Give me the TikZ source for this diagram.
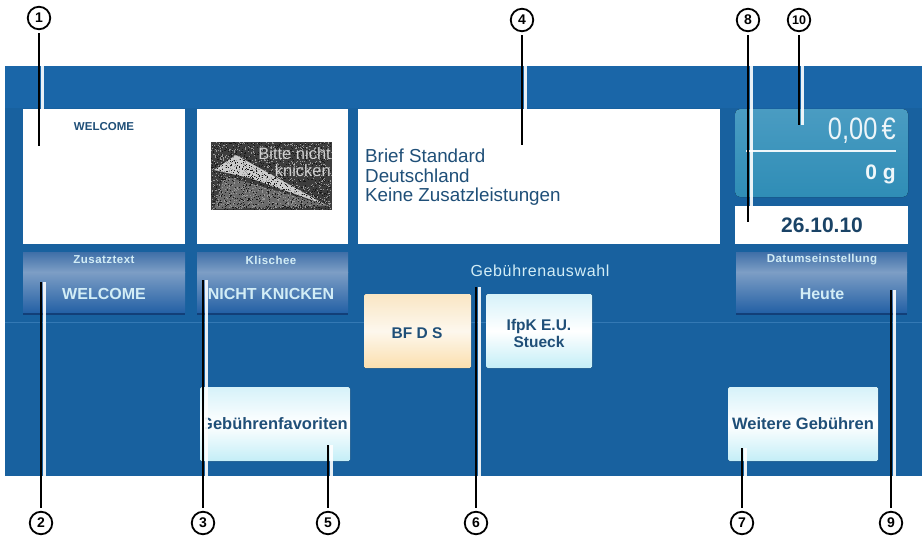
\documentclass[tikz,border=0pt]{standalone}
\usepackage{graphicx}
\usepackage{fontspec}
\setmainfont{Liberation Sans}
\definecolor{bgblue}{HTML}{18619F}
\definecolor{bandblue}{HTML}{1A66A8}
\definecolor{seam}{HTML}{3479B4}
\definecolor{txtblue}{HTML}{1F4F78}
\definecolor{ktop}{HTML}{3F6FA8}
\definecolor{kmid}{HTML}{7D9EC5}
\definecolor{kbot}{HTML}{2360A5}
\definecolor{kshadow}{HTML}{123F78}
\definecolor{capt}{HTML}{D2EDF6}
\definecolor{paneltop}{HTML}{4A9CC2}
\definecolor{panelbot}{HTML}{2F8DB6}
\definecolor{cyantop}{HTML}{D6F2F9}
\definecolor{cyanlow}{HTML}{C4EEF7}
\definecolor{warmtop}{HTML}{F9E6C4}
\definecolor{warmlow}{HTML}{FBDFAE}
\tikzset{
  x=1pt,y=-1pt,
  softkeyupper/.style={top color=ktop,bottom color=kmid,draw=none},
  softkeylower/.style={top color=kmid,bottom color=kbot,draw=none},
  coolbutton/.style={top color=cyantop,bottom color=cyanlow,middle color=white,draw=none,rounded corners=1.5pt},
  warmbutton/.style={top color=warmtop,bottom color=warmlow,middle color=white!70!warmtop,draw=none,rounded corners=1.5pt},
  callout/.style={circle,draw=black,line width=1.8pt,fill=white,minimum size=22.5pt,inner sep=0pt,font=\bfseries\fontsize{14}{14}\selectfont},
  leader/.style={draw=black,line width=2.4pt,shorten <=3pt},
  halo/.style={draw=white,line width=3.4pt,opacity=.9,shorten <=3pt},
  keycaption/.style={font=\bfseries\fontsize{11.5}{12}\selectfont\addfontfeature{LetterSpace=4},text=capt},
  keyvalue/.style={font=\bfseries\fontsize{16}{16}\selectfont,text=capt},
  buttontext/.style={font=\bfseries\fontsize{16.5}{17}\selectfont,text=txtblue},
}
\newcommand{\leaderline}[2]{%
  \draw[halo] ([xshift=3.4pt]#1) -- ([xshift=3.4pt]#2);
  \draw[leader] (#1) -- (#2);}
\begin{document}
\begin{tikzpicture}
\useasboundingbox (0,0) rectangle (922,538);
\fill[white] (0,0) rectangle (922,538);
\fill[bgblue] (5,66) rectangle (922,476);
\fill[bandblue] (5,66) rectangle (922,108);
\draw[seam,line width=.8pt] (5,322) -- (922,322);
% white boxes
\fill[white] (23,109) rectangle (185,244);
\fill[white] (197,109) rectangle (348,244);
\fill[white] (358,109) rectangle (720,244);
\node[font=\bfseries\fontsize{11.5}{11.5}\selectfont,text=txtblue] (welcome) at (104,127) {WELCOME};
% Klischee picture
\fill[black!76] (211,142) rectangle (332,210);
\fill[black!58] (224,176) -- (330,206) -- (214,209) -- cycle;
\fill[black!20] (214,170) -- (236,155) -- (326,205) -- (250,178) -- cycle;
\foreach \i in {1,...,1100}{
  \pgfmathsetmacro{\px}{211+rnd*120}
  \pgfmathsetmacro{\py}{142+rnd*67}
  \fill[black!40] (\px,\py) rectangle ++(1,1);
}
\foreach \i in {1,...,1000}{
  \pgfmathsetmacro{\px}{211+rnd*120}
  \pgfmathsetmacro{\py}{142+rnd*67}
  \fill[black!90] (\px,\py) rectangle ++(1,1);
}
\node[font=\fontsize{16.5}{16.5}\selectfont,text=black!18,align=right,anchor=east,inner sep=0pt] (stamp) at (331,162) {Bitte nicht\\knicken};
% main text
\node[font=\fontsize{18.8}{19.5}\selectfont,text=txtblue,align=left,anchor=west,inner sep=0pt] (maintext) at (365,177.5) {Brief Standard\\Deutschland\\Keine Zusatzleistungen};
% value panel
\fill[top color=paneltop,bottom color=panelbot,rounded corners=5pt] (735,109) rectangle (908,197);
\draw[white!92!paneltop,line width=1.2pt] (746,151) -- (896,151);
\node[font=\fontsize{31}{31}\selectfont,text=white!90!paneltop,anchor=east,inner sep=0pt] (amount) at (896,131) {\scalebox{.82}[1]{0,00\,€}};
\node[font=\bfseries\fontsize{21}{21}\selectfont,text=white!92!paneltop,anchor=east,inner sep=0pt] (weight) at (896,174) {0 g};
% date
\fill[white] (735,206) rectangle (908,244);
\node[font=\bfseries\fontsize{21}{21}\selectfont,text=txtblue!85!black] (date) at (822,225) {26.10.10};
% soft keys
\foreach \a/\b in {23/185,197/348,736/907}{
  \fill[softkeyupper] (\a,252) rectangle (\b,272);
  \fill[softkeylower] (\a,272) rectangle (\b,313);
  \fill[kshadow] (\a,313) rectangle (\b,315);
}
\node[keycaption] (k1a) at (104,260) {Zusatztext};
\node[keyvalue] (k1b) at (104,294) {WELCOME};
\node[keycaption] (k2a) at (271,260) {Klischee};
\node[keyvalue] (k2b) at (271,294) {NICHT KNICKEN};
\node[keycaption] (k3a) at (822,260) {Datumseinstellung};
\node[keyvalue] (k3b) at (822,294) {Heute};
\node[font=\fontsize{16}{16}\selectfont\addfontfeature{LetterSpace=4},text=capt] (gebw) at (540,271) {Gebührenauswahl};
% fee buttons
\fill[warmbutton] (364,294) rectangle (471,368);
\fill[coolbutton] (486,294) rectangle (592,368);
\node[font=\bfseries\fontsize{15.5}{16}\selectfont,text=txtblue] (bfds) at (417,333) {BF D S};
\node[font=\bfseries\fontsize{15.5}{17}\selectfont,text=txtblue,align=center] (ifpk) at (539,333) {IfpK E.U.\\Stueck};
\fill[coolbutton] (200,387) rectangle (350,461);
\fill[coolbutton] (728,387) rectangle (878,461);
\begin{scope}
\clip (205,387) rectangle (350,461);
\node[buttontext] (fav) at (274,424) {Gebührenfavoriten};
\end{scope}
\node[buttontext] (more) at (803,424) {Weitere Gebühren};
% callouts
\node[callout] (c1) at (39,18) {1};
\node[callout] (c4) at (522,20) {4};
\node[callout] (c8) at (748,20) {8};
\node[callout,font=\bfseries\fontsize{12.5}{12.5}\selectfont] (c10) at (799,20) {10};
\node[callout] (c2) at (41,523) {2};
\node[callout] (c3) at (203,523) {3};
\node[callout] (c5) at (328,523) {5};
\node[callout] (c6) at (476,523) {6};
\node[callout] (c7) at (742,523) {7};
\node[callout] (c9) at (891,523) {9};
\coordinate (e1) at (39,146);
\coordinate (e4) at (522,145);
\coordinate (e8) at (748,222);
\coordinate (e10) at (799,125);
\coordinate (e2) at (41,282);
\coordinate (e3) at (203,280);
\coordinate (e5) at (328,445);
\coordinate (e6) at (476,287);
\coordinate (e7) at (742,448);
\coordinate (e9) at (891,290);
\foreach \n/\e in {c2/e2,c3/e3,c5/e5,c6/e6,c7/e7,c9/e9}{\leaderline{\n.north}{\e}}
\foreach \n/\e in {c1/e1,c4/e4,c8/e8,c10/e10}{\leaderline{\n.south}{\e}}
\end{tikzpicture}
\end{document}
